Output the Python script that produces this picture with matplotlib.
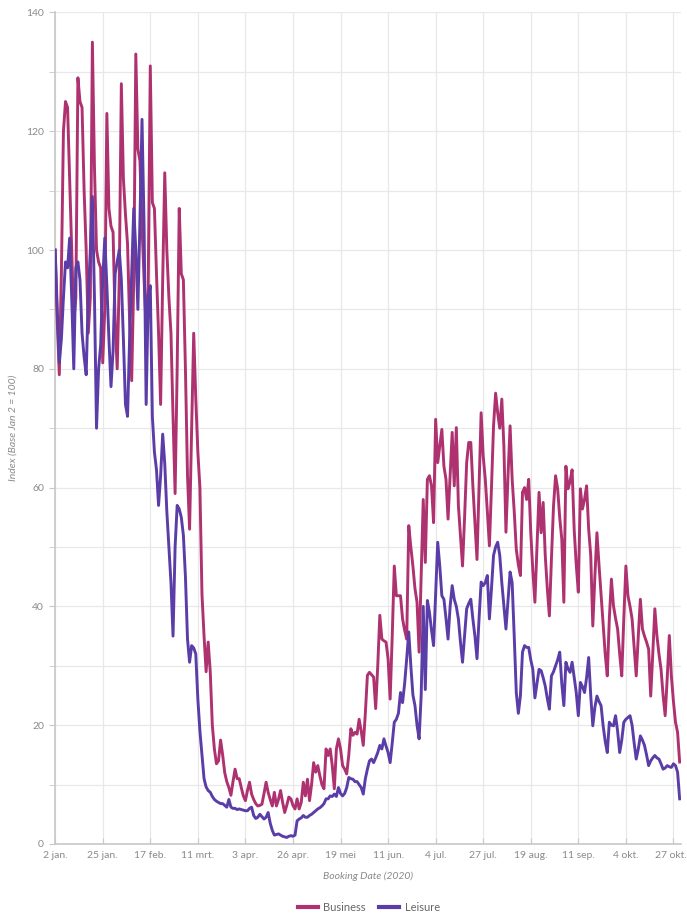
import numpy as np
import matplotlib
matplotlib.use("Agg")
import matplotlib.pyplot as plt
import matplotlib.transforms as mtransforms
from matplotlib.ticker import MultipleLocator
from matplotlib.lines import Line2D

plt.rcParams['font.family'] = ['Lato', 'DejaVu Sans']

# daily index, 2 jan .. 30 okt 2020 (base Jan 2 = 100)
business = [
    100, 88, 79, 96, 120, 125, 124, 112, 100, 88,
    92, 129, 125, 124, 110, 100, 86, 92, 135, 114,
    100, 98, 97, 81, 90, 123, 107, 104, 103, 88,
    80, 95, 128, 112, 106, 101, 88, 78, 95, 133,
    117, 115, 104, 95, 87, 94, 131, 108, 107, 96,
    86, 74, 95, 113, 100, 92, 86, 72, 59, 80,
    107, 96, 95, 80, 62, 53, 70, 86, 75, 66,
    60, 42, 35, 29, 34, 29, 20, 16, 13.5, 14,
    17.5, 15, 12, 10.5, 9.5, 8.2, 10.5, 12.6, 11, 11,
    9.5, 8.1, 7.3, 9, 10.4, 8.4, 7.5, 6.8, 6.4, 6.5,
    6.7, 8.5, 10.4, 8.7, 7.5, 6.4, 8.7, 6.4, 7.5, 9,
    7, 5.3, 6.5, 7.9, 7.6, 6.5, 5.9, 7.6, 5.9, 7,
    10.4, 8.1, 10.9, 7.3, 10, 13.7, 12.1, 13.2, 11.5, 10,
    9.3, 16, 14.9, 16, 13.2, 9.3, 16, 17.7, 16, 13.2,
    12.6, 11.8, 15, 19.4, 18.3, 18.8, 18.5, 21, 19, 16.6,
    22, 28.4, 28.9, 28.5, 28.1, 22.8, 30, 38.5, 34.5, 34.2,
    34, 31.2, 24.4, 35, 46.8, 41.8, 41.8, 41.8, 37.9, 36,
    34.5, 53.6, 50, 46.8, 43, 40.7, 32.3, 45, 58, 47.4,
    61.4, 62, 60.3, 54.1, 71.5, 64.2, 67, 69.8, 63.6, 61.4,
    54.7, 62, 69.3, 60.3, 70.1, 57, 52, 46.8, 55, 64.2,
    67.6, 67.6, 60.3, 54, 47.9, 60, 72.6, 65.3, 61.4, 56,
    50.2, 60, 70.4, 75.9, 72.6, 70, 74.9, 67, 52.5, 62,
    70.4, 61.4, 56, 49.6, 47, 45.2, 59.2, 60, 58, 61.4,
    52.4, 46, 40.7, 50, 59.2, 52.4, 57.5, 48.6, 43, 38.4,
    48, 56.9, 62, 59.8, 55, 51.3, 40.7, 63.6, 59.8, 61,
    63, 52.9, 47, 42.4, 59.8, 56.4, 58, 60.3, 53, 48.6,
    36.7, 45, 52.4, 47, 42, 37, 32, 28.3, 38, 44.6,
    40.1, 38, 36.2, 32, 28.3, 38, 46.8, 41.8, 40, 37.9,
    33, 28.3, 35, 41.2, 36.2, 35, 34, 32.8, 24.9, 32,
    39.6, 35.1, 32, 29.4, 25, 21.6, 28, 35.1, 28.3, 24,
    20.5, 18.8, 13.8,
]

leisure = [
    100, 90, 81, 85, 92, 98, 97, 102, 92, 80,
    97, 98, 95, 86, 82, 79, 92, 100, 109, 92,
    70, 80, 84, 95, 102, 94, 85, 77, 83, 96,
    98, 100, 95, 85, 74, 72, 85, 96, 107, 100,
    90, 105, 122, 104, 74, 92, 94, 72, 66, 63,
    57, 62, 69, 64, 56, 50, 44, 35, 50, 57,
    56.4, 55, 52, 45, 34.5, 30.6, 33.4, 33, 32, 24.4,
    19, 15, 11, 9.6, 9, 8.7, 8, 7.5, 7.2, 7,
    6.8, 6.8, 6.5, 6.2, 7.5, 6.2, 6, 6, 5.8, 5.9,
    5.8, 5.7, 5.6, 5.6, 6, 6.2, 4.8, 4.3, 4.5, 5,
    4.6, 4.2, 4.5, 5.3, 3.5, 2.3, 1.5, 1.6, 1.7, 1.5,
    1.3, 1.2, 1.1, 1.3, 1.4, 1.3, 1.5, 3.9, 4.2, 4.4,
    4.8, 4.5, 4.5, 4.8, 5, 5.3, 5.6, 5.9, 6.1, 6.4,
    6.8, 7.6, 7.6, 8.1, 8, 8.4, 8, 9.5, 8.5, 8.1,
    8.5, 9.5, 11.2, 11, 10.9, 10.5, 10.5, 10, 9.5, 8.4,
    11, 12.6, 14, 14.3, 13.7, 14.5, 15.4, 16.6, 16, 17.7,
    16.5, 15.4, 13.7, 17, 20.5, 21, 22, 25.5, 23.8, 27,
    31.2, 35.7, 30, 25.1, 23.3, 20, 17.7, 25, 40, 26,
    41, 39, 36, 33.4, 42, 50.8, 46.8, 41.8, 41.2, 38,
    34.5, 40, 43.5, 41.2, 40, 37.9, 34, 30.6, 35, 39.6,
    40.5, 41.2, 37.9, 35, 31.2, 38, 44.1, 43.5, 44, 45.2,
    37.9, 43, 48.6, 50, 50.8, 48.6, 44, 40, 36.2, 41,
    45.8, 44, 35, 25.5, 22, 25, 32.3, 33.4, 33.1, 33.1,
    31, 29.4, 24.6, 27, 29.4, 29.2, 28, 26.6, 24.5, 22.7,
    28.3, 29, 30, 31, 32.3, 27, 23.3, 30.6, 29.5, 28.9,
    30.6, 28, 25.5, 21.6, 27.2, 26.5, 25.5, 28, 31.4, 25,
    19.9, 23, 24.9, 24, 23.3, 19.9, 17.3, 15.4, 20.5, 20,
    19.9, 21.6, 19, 15.4, 17.5, 20.5, 21, 21.3, 21.6, 20,
    17, 14.3, 16, 18.2, 17.5, 16.6, 15, 13.2, 14, 14.5,
    14.9, 14.5, 14.3, 13.5, 12.6, 12.8, 13.2, 13, 12.9, 13.5,
    13.2, 12.1, 7.6,
]

tick_labels = ['2 jan.', '25 jan.', '17 feb.', '11 mrt.', '3 apr.', '26 apr.',
               '19 mei', '11 jun.', '4 jul.', '27 jul.', '19 aug.', '11 sep.',
               '4 okt.', '27 okt.']
tick_step = 23

biz_color = '#AE3270'
leis_color = '#5B3DA8'
grid_color = '#e8e8e8'
text_color = '#8a8a8a'

days = np.arange(len(business))

fig = plt.figure(figsize=(6.87, 9.15), dpi=100)
ax = fig.add_axes([0.0803, 0.0776, 0.9105, 0.9088])

ax.plot(days, business, color=biz_color, lw=2.1, solid_joinstyle='round', zorder=3)
ax.plot(days, leisure, color=leis_color, lw=2.1, solid_joinstyle='round', zorder=4)

ax.set_xlim(0, 302.5)
ax.set_ylim(0, 140)

ax.set_xticks(np.arange(len(tick_labels)) * tick_step)
ax.set_xticklabels(tick_labels)
ax.yaxis.set_major_locator(MultipleLocator(20))
ax.yaxis.set_minor_locator(MultipleLocator(10))

ax.grid(True, which='both', axis='y', color=grid_color, lw=0.9, zorder=0)
ax.grid(True, which='major', axis='x', color=grid_color, lw=0.9, zorder=0)

for s in ['top', 'right']:
    ax.spines[s].set_visible(False)
ax.spines['left'].set_color('#c8c8c8')
ax.spines['bottom'].set_color('#c8c8c8')
ax.spines['left'].set_linewidth(1.2)
ax.spines['bottom'].set_linewidth(1.2)

ax.tick_params(axis='x', direction='in', length=4, color='#c8c8c8',
               labelsize=7.5, labelcolor=text_color, pad=5)
ax.tick_params(axis='y', which='both', direction='out', length=4, color='#c8c8c8',
               labelsize=7.5, labelcolor=text_color, pad=4)

# last date label is pushed in so it stays inside the picture
last = ax.get_xticklabels()[-1]
last.set_horizontalalignment('right')
last.set_transform(last.get_transform() +
                   mtransforms.ScaledTranslation(0.13, 0, fig.dpi_scale_trans))

ax.set_xlabel('Booking Date (2020)', fontsize=7.5, color=text_color,
              style='italic', labelpad=8)
ax.set_ylabel('Index (Base Jan 2 = 100)', fontsize=7.5, color=text_color,
              style='italic', labelpad=6)

handles = [Line2D([0], [0], color=biz_color, lw=3),
           Line2D([0], [0], color=leis_color, lw=3)]
fig.legend(handles, ['Business', 'Leisure'], loc='center',
           bbox_to_anchor=(0.537, 0.008), ncol=2, frameon=False,
           fontsize=8, labelcolor='#666666', handlelength=1.8,
           columnspacing=1.2, handletextpad=0.5)

fig.savefig('out.png', dpi=100)
